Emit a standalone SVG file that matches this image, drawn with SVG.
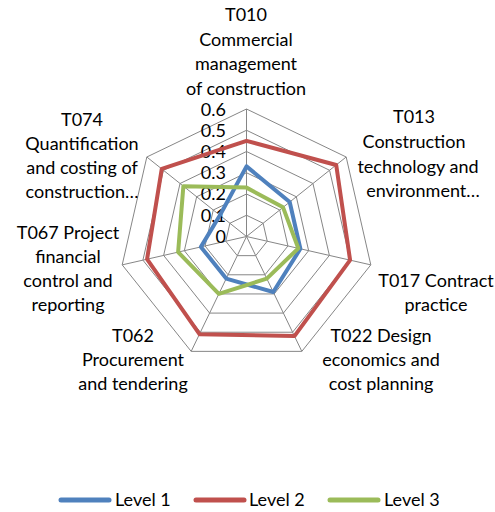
<svg xmlns="http://www.w3.org/2000/svg" width="495" height="512" viewBox="0 0 495 512">
<style>
text{font-family:Lato,"Liberation Sans",sans-serif;font-size:18px;fill:#000}
.lbl{text-anchor:middle}
.tick{text-anchor:end}
.grid{fill:none;stroke:#868686;stroke-width:1}
.s{fill:none;stroke-width:4;stroke-linejoin:round}
.leg{stroke-width:5;stroke-linecap:round}
</style>
<rect width="495" height="512" fill="#fff"/>
<g id="grid">
<polygon class="grid" points="246.5,215.25 263.11,223.25 267.22,241.23 255.72,255.65 237.28,255.65 225.78,241.23 229.89,223.25"/>
<polygon class="grid" points="246.5,194 279.73,210 287.93,245.96 264.94,274.79 228.06,274.79 205.07,245.96 213.27,210"/>
<polygon class="grid" points="246.5,172.75 296.34,196.75 308.65,250.69 274.16,293.94 218.84,293.94 184.35,250.69 196.66,196.75"/>
<polygon class="grid" points="246.5,151.5 312.96,183.5 329.37,255.42 283.38,313.08 209.62,313.08 163.63,255.42 180.04,183.5"/>
<polygon class="grid" points="246.5,130.25 329.57,170.26 350.09,260.15 292.6,332.23 200.4,332.23 142.91,260.15 163.43,170.26"/>
<polygon class="grid" points="246.5,109 346.18,157.01 370.8,264.87 301.82,351.37 191.18,351.37 122.2,264.87 146.82,157.01"/>
<path class="grid" d="M246.5,236.5L246.5,109M246.5,236.5L346.18,157.01M246.5,236.5L370.8,264.87M246.5,236.5L301.82,351.37M246.5,236.5L191.18,351.37M246.5,236.5L122.2,264.87M246.5,236.5L146.82,157.01"/>
</g>
<g id="ticks">
<text class="tick" x="226" y="116">0.6</text>
<text class="tick" x="226" y="136.5">0.5</text>
<text class="tick" x="226" y="157.5">0.4</text>
<text class="tick" x="226" y="179">0.3</text>
<text class="tick" x="226" y="200">0.2</text>
<text class="tick" x="226" y="221.5">0.1</text>
<text class="tick" x="226" y="242.5">0</text>
</g>
<g id="connectors">
<polygon id="level1" class="s" stroke="#4F81BD" points="246.5,166.37 289.7,202.05 300.36,248.79 273.24,292.02 226.22,278.62 200.92,246.9 219.92,215.3"/>
<polygon id="level2" class="s" stroke="#C0504D" points="246.5,140.87 336.21,164.95 350.09,260.14 294.44,336.06 199.48,334.15 147.06,259.2 161.77,168.93"/>
<polygon id="level3" class="s" stroke="#9BBB59" points="246.5,187.62 283.05,207.35 298.3,248.32 266.78,278.62 218.84,293.94 178.13,252.11 183.37,186.15"/>
</g>
<g id="T010">
<text class="lbl" x="246" y="20.5">T010</text>
<text class="lbl" x="246" y="46">Commercial</text>
<text class="lbl" x="246" y="70">management</text>
<text class="lbl" x="246" y="94.5">of construction</text>
</g>
<g id="T013">
<text class="lbl" x="414" y="123">T013</text>
<text class="lbl" x="414" y="148">Construction</text>
<text class="lbl" x="418" y="173">technology and</text>
<text class="lbl" x="423" y="197">environment…</text>
</g>
<g id="T017">
<text class="lbl" x="436" y="287">T017 Contract</text>
<text class="lbl" x="436" y="311">practice</text>
</g>
<g id="T022">
<text class="lbl" x="381" y="342">T022 Design</text>
<text class="lbl" x="381" y="366">economics and</text>
<text class="lbl" x="381" y="390">cost planning</text>
</g>
<g id="T062">
<text class="lbl" x="133" y="342">T062</text>
<text class="lbl" x="133" y="366">Procurement</text>
<text class="lbl" x="133" y="390">and tendering</text>
</g>
<g id="T067">
<text class="lbl" x="68" y="239">T067 Project</text>
<text class="lbl" x="68" y="263">financial</text>
<text class="lbl" x="68" y="287">control and</text>
<text class="lbl" x="68" y="311">reporting</text>
</g>
<g id="T074">
<text class="lbl" x="82" y="126">T074</text>
<text class="lbl" x="82" y="150">Quantification</text>
<text class="lbl" x="82" y="174">and costing of</text>
<text class="lbl" x="82" y="198">construction…</text>
</g>
<g id="legend">
<line class="leg" x1="61" y1="500" x2="109" y2="500" stroke="#4F81BD"/>
<text x="115" y="506">Level 1</text>
<line class="leg" x1="196" y1="500" x2="244" y2="500" stroke="#C0504D"/>
<text x="249" y="506">Level 2</text>
<line class="leg" x1="330" y1="500" x2="378" y2="500" stroke="#9BBB59"/>
<text x="384" y="506">Level 3</text>
</g>
</svg>
